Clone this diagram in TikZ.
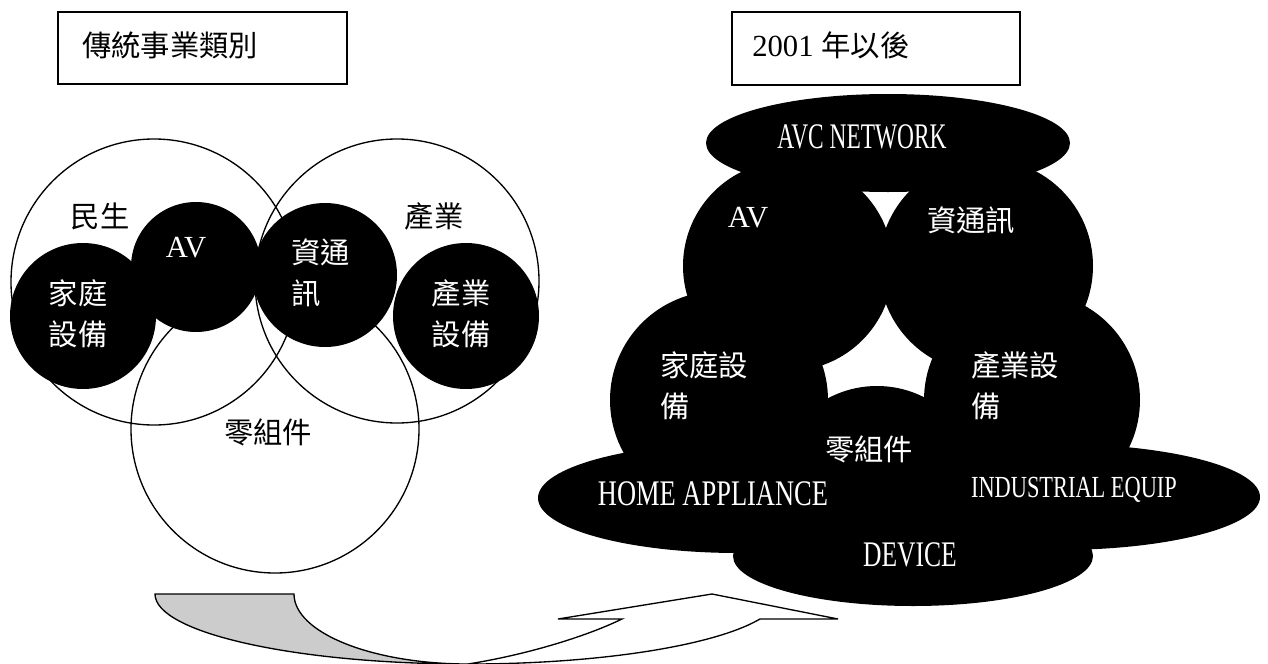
\documentclass[tikz,border=0pt]{standalone}
\usepackage{fontspec}
\usepackage{graphicx}
\setmainfont{Noto Sans CJK TC}
\newfontfamily\lat{Liberation Serif}
\begin{document}
\begin{tikzpicture}[x=0.75pt,y=-0.75pt,
  ring/.style={draw, line width=1pt},
  blob/.style={fill=black},
  framebox/.style={draw, line width=1.1pt},
  cjk/.style={font=\fontsize{22pt}{31pt}\selectfont, inner sep=0pt},
  wcjk/.style={cjk, text=white},
  latw/.style={font=\lat\fontsize{23pt}{28pt}\selectfont, inner sep=0pt, text=white},
  band/.style={draw, line width=1pt, line join=miter}]
\useasboundingbox (0,0) rectangle (1268,664);

% title boxes
\draw[framebox] (58,12) rectangle (347,84);
\draw[framebox] (732,12) rectangle (1020,85);
\node[cjk, anchor=west] (tleft) at (82,45) {傳統事業類別};
\node[cjk, anchor=west] (tright) at (752,45) {{\lat\fontsize{23pt}{28pt}\selectfont 2001}\hspace{6pt}年以後};

% left diagram: open circles
\draw[ring] (154,282) circle[radius=143];
\draw[ring] (397,281) circle[radius=142];
\draw[ring] (275,429) circle[radius=144];
% black circles
\fill[blob] (83,316) circle[radius=73];
\fill[blob] (196,267) circle[radius=65];
\fill[blob] (325,275) circle[radius=72];
\fill[blob] (466,316) circle[radius=73];

\node[cjk] (minsheng) at (100,216) {民生};
\node[cjk] (chanye) at (434,216) {產業};
\node[latw] (avl) at (186,248) {AV};
\node[wcjk, align=left, anchor=west] (zixunl) at (291,273) {資通\\訊};
\node[wcjk, align=center] (jiatingl) at (78,314) {家庭\\設備};
\node[wcjk, align=center] (chanyel) at (461,314) {產業\\設備};
\node[cjk] (lingl) at (268,432) {零組件};

% right diagram: black blob
\fill[blob] (888,143) ellipse[x radius=182, y radius=49];
\fill[blob] (788,266) circle[radius=105];
\fill[blob] (986,266) circle[radius=107];
\fill[blob] (719,400) circle[radius=109];
\fill[blob] (1032,400) circle[radius=108];
\fill[blob] (877,490) circle[radius=104];
\fill[blob] (738,498) ellipse[x radius=200, y radius=55];
\fill[blob] (1058,497) ellipse[x radius=202, y radius=53];
\fill[blob] (913,556) ellipse[x radius=180, y radius=50];

\node[inner sep=0pt, text=white, font=\lat\fontsize{27pt}{30pt}\selectfont] (avc) at (862,137) {\scalebox{0.65}[1]{AVC NETWORK}};
\node[latw] (avr) at (748,218) {AV};
\node[wcjk] (zixunr) at (971,220) {資通訊};
\node[wcjk, align=left, anchor=west] (jiatingr) at (660,386) {家庭設\\備};
\node[wcjk, align=left, anchor=west] (chanyer) at (971,386) {產業設\\備};
\node[wcjk] (lingr) at (869,449) {零組件};
\node[inner sep=0pt, text=white, font=\lat\fontsize{27pt}{30pt}\selectfont] (home) at (713,494) {\scalebox{0.735}[1]{HOME APPLIANCE}};
\node[inner sep=0pt, text=white, font=\lat\fontsize{23pt}{26pt}\selectfont] (indus) at (1074,490) {\scalebox{0.73}[1]{INDUSTRIAL EQUIP}};
\node[inner sep=0pt, text=white, font=\lat\fontsize{27pt}{30pt}\selectfont] (device) at (910,555) {\scalebox{0.71}[1]{DEVICE}};

% curved arrow
\draw[band, fill=gray!40] (155,594) -- (294,594)
  arc[start angle=180, end angle=90, x radius=174, y radius=70]
  arc[start angle=90, end angle=180, x radius=313, y radius=70] -- cycle;
\draw[band, fill=white] (468,664) .. controls (525,655) and (585,637) .. (622,619)
  -- (558,619) -- (712,594) -- (838,619) -- (760,619)
  arc[start angle=20.9, end angle=90, x radius=313, y radius=70] -- cycle;
\end{tikzpicture}
\end{document}
